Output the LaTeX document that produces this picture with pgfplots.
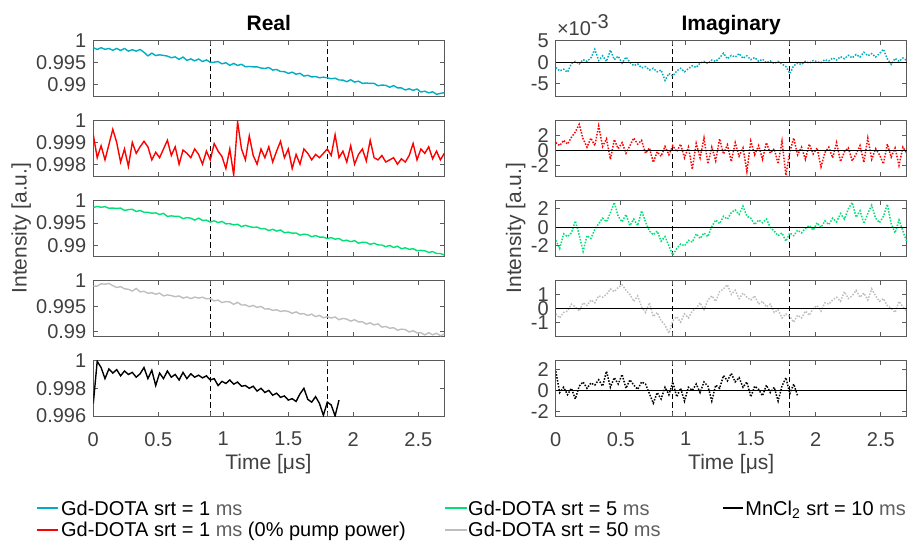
\documentclass[border=0pt]{standalone}
\usepackage{fontspec}
\setmainfont{Liberation Sans}
\usepackage{pgfplots}
\usepackage{pgfplotstable}
\pgfplotsset{compat=1.18}
\definecolor{cyanc}{RGB}{0,174,194}
\definecolor{redc}{RGB}{255,0,0}
\definecolor{greenc}{RGB}{0,224,118}
\definecolor{grayc}{RGB}{190,190,190}
\definecolor{axgray}{RGB}{90,90,90}
\definecolor{labgray}{RGB}{64,64,64}
\definecolor{msgray}{RGB}{95,95,95}

\pgfplotstableread{
x a b c d e
0.00 0.99838 0.99935 0.99846 0.99891 0.99691
0.03 0.99797 0.99830 0.99870 0.99893 0.99995
0.06 0.99838 0.99885 0.99852 0.99938 0.99950
0.09 0.99800 0.99820 0.99865 0.99930 0.99870
0.12 0.99820 0.99890 0.99830 0.99945 0.99940
0.15 0.99778 0.99960 0.99833 0.99902 0.99910
0.18 0.99821 0.99900 0.99826 0.99865 0.99935
0.21 0.99775 0.99810 0.99833 0.99882 0.99890
0.24 0.99820 0.99870 0.99780 0.99840 0.99925
0.27 0.99758 0.99790 0.99800 0.99830 0.99900
0.30 0.99792 0.99900 0.99807 0.99796 0.99915
0.33 0.99758 0.99850 0.99757 0.99847 0.99880
0.36 0.99796 0.99880 0.99780 0.99780 0.99905
0.39 0.99732 0.99905 0.99740 0.99790 0.99950
0.42 0.99650 0.99880 0.99740 0.99752 0.99870
0.45 0.99712 0.99820 0.99718 0.99763 0.99930
0.48 0.99657 0.99855 0.99727 0.99733 0.99820
0.51 0.99675 0.99830 0.99690 0.99756 0.99910
0.54 0.99660 0.99870 0.99715 0.99700 0.99870
0.57 0.99645 0.99910 0.99647 0.99720 0.99925
0.60 0.99608 0.99840 0.99660 0.99707 0.99880
0.63 0.99627 0.99880 0.99648 0.99685 0.99900
0.66 0.99570 0.99800 0.99648 0.99700 0.99860
0.69 0.99623 0.99865 0.99598 0.99657 0.99915
0.72 0.99547 0.99850 0.99620 0.99680 0.99870
0.75 0.99580 0.99830 0.99610 0.99648 0.99905
0.78 0.99536 0.99870 0.99565 0.99677 0.99880
0.81 0.99578 0.99845 0.99610 0.99658 0.99895
0.84 0.99520 0.99800 0.99557 0.99675 0.99875
0.87 0.99558 0.99860 0.99565 0.99644 0.99890
0.90 0.99502 0.99820 0.99523 0.99648 0.99860
0.93 0.99505 0.99895 0.99550 0.99603 0.99870
0.96 0.99520 0.99860 0.99510 0.99618 0.99820
0.99 0.99468 0.99835 0.99535 0.99570 0.99850
1.02 0.99493 0.99780 0.99482 0.99590 0.99835
1.05 0.99433 0.99870 0.99486 0.99582 0.99860
1.08 0.99477 0.99750 0.99458 0.99535 0.99830
1.11 0.99430 0.99995 0.99473 0.99575 0.99845
1.14 0.99457 0.99870 0.99420 0.99522 0.99815
1.17 0.99400 0.99820 0.99448 0.99525 0.99820
1.20 0.99408 0.99930 0.99422 0.99491 0.99800
1.23 0.99398 0.99840 0.99403 0.99515 0.99815
1.26 0.99398 0.99800 0.99410 0.99475 0.99780
1.29 0.99372 0.99870 0.99372 0.99495 0.99800
1.32 0.99360 0.99830 0.99375 0.99444 0.99770
1.35 0.99384 0.99880 0.99333 0.99448 0.99785
1.38 0.99325 0.99810 0.99360 0.99418 0.99750
1.41 0.99338 0.99860 0.99320 0.99430 0.99765
1.44 0.99292 0.99905 0.99345 0.99398 0.99735
1.47 0.99290 0.99830 0.99284 0.99410 0.99745
1.50 0.99248 0.99870 0.99298 0.99397 0.99715
1.53 0.99277 0.99780 0.99273 0.99360 0.99725
1.56 0.99230 0.99845 0.99278 0.99388 0.99705
1.59 0.99250 0.99800 0.99230 0.99347 0.99760
1.62 0.99187 0.99870 0.99252 0.99353 0.99800
1.65 0.99206 0.99850 0.99240 0.99318 0.99720
1.68 0.99166 0.99820 0.99195 0.99345 0.99700
1.71 0.99178 0.99845 0.99220 0.99295 0.99740
1.74 0.99148 0.99830 0.99187 0.99320 0.99690
1.77 0.99162 0.99850 0.99185 0.99272 0.99605
1.80 0.99147 0.99870 0.99154 0.99294 0.99700
1.83 0.99127 0.99840 0.99175 0.99268 0.99680
1.86 0.99138 0.99935 0.99140 0.99288 0.99600
1.89 0.99097 0.99830 0.99155 0.99235 0.99715
1.92 0.99095 0.99860 0.99102 0.99260 nan
1.95 0.99058 0.99810 0.99118 0.99247 nan
1.98 0.99103 0.99885 0.99085 0.99207 nan
2.01 0.99050 0.99800 0.99108 0.99235 nan
2.04 0.99070 0.99845 0.99050 0.99192 nan
2.07 0.99020 0.99870 0.99072 0.99195 nan
2.10 0.99028 0.99815 0.99067 0.99148 nan
2.13 0.99018 0.99910 0.99025 0.99175 nan
2.16 0.99020 0.99830 0.99050 0.99133 nan
2.19 0.98965 0.99820 0.99012 0.99155 nan
2.22 0.98982 0.99840 0.99010 0.99090 nan
2.25 0.98974 0.99810 0.98973 0.99103 nan
2.28 0.98930 0.99820 0.99000 0.99068 nan
2.31 0.98970 0.99830 0.98955 0.99078 nan
2.34 0.98917 0.99800 0.98983 0.99030 nan
2.37 0.98915 0.99825 0.98927 0.99050 nan
2.40 0.98868 0.99810 0.98948 0.99042 nan
2.43 0.98897 0.99840 0.98913 0.98995 nan
2.46 0.98860 0.99895 0.98928 0.99020 nan
2.49 0.98890 0.99820 0.98885 0.98977 nan
2.52 0.98822 0.99870 0.98890 0.98980 nan
2.55 0.98840 0.99850 0.98882 0.98938 nan
2.58 0.98803 0.99880 0.98845 0.98980 nan
2.61 0.98826 0.99825 0.98862 0.98940 nan
2.64 0.98770 0.99860 0.98822 0.98970 nan
2.67 0.98790 0.99820 0.98820 0.98922 nan
2.70 0.98807 0.99850 0.98790 0.98953 nan
}\realtab

\pgfplotstableread{
x a b c d e
0.00 -1.2 1.0 -1.4 -0.4 1.8
0.03 -2.0 0.6 -2.3 -0.7 -0.2
0.06 -1.6 1.3 -0.7 -0.3 0.3
0.09 -2.3 0.8 -1.0 -0.2 -0.4
0.12 -0.3 1.7 -0.6 0.3 0.2
0.15 0.2 2.4 0.7 0.1 -0.8
0.18 -0.4 3.4 -0.8 -0.2 0.4
0.21 0.6 1.5 -2.6 0.4 0.8
0.24 0.2 0.4 -0.9 0.2 0.2
0.27 1.0 1.6 -1.2 0.6 0.7
0.30 3.0 0.6 -0.2 0.4 0.5
0.33 0.4 3.2 0.4 0.9 1.0
0.36 1.5 0.5 1.0 0.8 0.4
0.39 0.2 1.5 0.6 1.0 1.8
0.42 2.8 -1.2 1.6 1.4 0.3
0.45 0.6 1.4 2.7 1.2 1.2
0.48 1.4 0.2 1.2 1.5 0.6
0.51 -0.2 1.0 0.6 1.7 1.5
0.54 1.2 -0.4 1.4 1.3 0.2
0.57 0.0 0.6 0.2 1.0 1.0
0.60 -0.8 1.6 0.9 0.5 0.5
0.63 -0.4 0.8 0.2 0.9 0.1
0.66 -1.3 1.3 1.8 0.1 0.8
0.69 -1.0 -0.4 0.6 -0.3 0.6
0.72 -1.8 0.3 -0.4 0.4 -0.3
0.75 -1.4 -1.6 -0.8 -0.6 -1.2
0.78 -2.2 -0.2 -0.4 -0.3 -0.2
0.81 -1.8 -0.8 -1.5 -0.9 -0.8
0.84 -4.2 0.5 -1.0 -1.2 0.3
0.87 -2.6 -0.6 -2.0 -1.8 -0.4
0.90 -3.2 0.6 -3.0 -0.9 0.8
0.93 -2.0 -0.2 -2.3 -0.6 -0.6
0.96 -1.4 0.8 -1.8 -1.0 0.2
0.99 -2.2 -1.0 -2.0 -0.4 -1.0
1.02 -1.5 0.4 -1.4 -0.7 0.3
1.05 -0.8 -2.5 -1.6 -0.2 0.0
1.08 -1.2 0.9 -0.7 0.0 0.6
1.11 -0.2 -1.0 -1.2 0.4 -0.2
1.14 0.2 1.6 -0.6 -0.1 0.8
1.17 -0.3 -1.8 -1.0 0.6 0.4
1.20 0.5 0.4 0.1 0.9 -1.0
1.23 0.2 -1.4 0.8 0.5 0.5
1.26 1.0 1.5 0.4 1.2 0.2
1.29 2.1 -0.5 1.2 1.4 1.4
1.32 0.8 0.7 0.9 1.7 0.9
1.35 1.6 -1.5 1.6 1.0 1.6
1.38 1.2 1.0 1.9 1.3 0.8
1.41 2.0 -0.8 1.4 0.7 1.2
1.44 0.9 0.3 2.3 1.1 0.3
1.47 1.5 -2.8 1.2 0.8 0.8
1.50 0.6 1.2 1.0 0.6 -0.6
1.53 1.1 -0.6 0.3 0.9 0.4
1.56 0.2 0.6 0.8 0.3 0.1
1.59 0.7 -1.2 0.5 0.5 -0.5
1.62 -0.1 1.0 0.9 0.1 0.5
1.65 0.3 -0.4 0.0 0.3 -0.2
1.68 -0.3 0.2 -0.4 -0.3 0.3
1.71 0.2 -1.8 -0.9 -0.1 -1.0
1.74 -0.4 1.2 -0.6 -0.7 0.4
1.77 -1.0 -3.3 -1.5 -0.4 1.2
1.80 -2.6 -0.2 -0.6 -0.6 -0.3
1.83 -0.8 1.6 -0.9 -1.0 0.6
1.86 -0.2 -0.6 -0.3 -0.5 -0.5
1.89 -0.5 0.4 -0.6 -0.7 nan
1.92 0.2 -1.2 -0.1 -0.2 nan
1.95 -0.2 0.8 0.2 -0.5 nan
1.98 0.4 -0.5 -0.3 0.0 nan
2.01 0.1 0.3 0.5 0.2 nan
2.04 -0.1 -2.2 0.0 -0.2 nan
2.07 0.6 -0.3 0.7 0.4 nan
2.10 0.3 0.4 0.3 0.3 nan
2.13 1.0 -1.0 1.0 0.6 nan
2.16 0.5 1.0 0.6 0.8 nan
2.19 1.3 -1.5 1.5 0.5 nan
2.22 0.8 -0.2 0.9 1.2 nan
2.25 1.6 0.3 2.0 0.7 nan
2.28 1.0 -1.4 2.7 0.9 nan
2.31 1.8 -0.5 1.1 1.3 nan
2.34 1.2 0.6 1.8 0.8 nan
2.37 2.3 -1.6 0.4 1.1 nan
2.40 1.5 1.6 1.5 0.6 nan
2.43 2.0 -1.2 2.4 1.4 nan
2.46 1.2 0.2 1.0 0.9 nan
2.49 2.0 -0.6 0.5 0.5 nan
2.52 3.0 -1.8 1.2 0.7 nan
2.55 0.8 0.8 2.5 0.2 nan
2.58 -0.5 -0.9 0.4 0.0 nan
2.61 0.9 0.3 -0.6 -0.3 nan
2.64 0.2 -2.0 0.8 0.5 nan
2.67 1.0 0.4 -0.4 0.1 nan
2.70 0.4 -0.4 -1.6 -0.2 nan
}\imagtab

\pgfplotsset{
  panel/.style={
    scale only axis, width=175.5pt, height=27.7pt,
    anchor=north west,
    xmin=0, xmax=2.7,
    xtick={0,0.5,1,1.5,2,2.5}, xticklabels={},
    tick align=inside, major tick length=2.2pt,
    axis line style={draw=axgray, line width=0.45pt},
    every tick/.style={draw=axgray, line width=0.45pt},
    ticklabel style={font=\fontsize{10}{12}\selectfont, text=labgray},
    scaled y ticks=false, scaled x ticks=false,
    extra x ticks={0.9,1.8}, extra x tick labels={},
    extra x tick style={grid=major},
    major grid style={black, line width=0.45pt, dash pattern=on 2.6pt off 1.6pt},
    clip=true,
  },
  bottomrow/.style={xticklabels={0,0.5,1,1.5,2,2.5}, xticklabel shift=4.5pt},
  lft/.style={panel, at={(46.65pt,#1)}},
  rgt/.style={panel, at={(277.9pt,#1)}},
  realline/.style={line width=0.7pt, mark=none},
  imagline/.style={line width=0.75pt, mark=none, dash pattern=on 0.75pt off 0.75pt},
  zeroline/.style={black, line width=0.5pt, mark=none, forget plot},
}

\begin{document}
\begin{tikzpicture}
\useasboundingbox (0,0) rectangle (455.5pt,-271.5pt);

% ---------------- Real column ----------------
\begin{axis}[lft=-20.3pt, ymin=0.9873, ymax=1, ytick={0.99,0.995,1}, yticklabels={0.99,0.995,1}]
\addplot[realline, cyanc] table[x=x, y=a] {\realtab};
\end{axis}
\begin{axis}[lft=-60.3pt, ymin=0.99746, ymax=1, ytick={0.998,0.999,1}, yticklabels={0.998,0.999,1}]
\addplot[realline, redc] table[x=x, y=b] {\realtab};
\end{axis}
\begin{axis}[lft=-100.3pt, ymin=0.98765, ymax=1, ytick={0.99,0.995,1}, yticklabels={0.99,0.995,1}]
\addplot[realline, greenc] table[x=x, y=c] {\realtab};
\end{axis}
\begin{axis}[lft=-140.3pt, ymin=0.98916, ymax=1, ytick={0.99,0.995,1}, yticklabels={0.99,0.995,1}]
\addplot[realline, grayc] table[x=x, y=d] {\realtab};
\end{axis}
\begin{axis}[lft=-180.3pt, bottomrow, ymin=0.996, ymax=1, ytick={0.996,0.998,1}, yticklabels={0.996,0.998,1}]
\addplot[realline, black] table[x=x, y=e] {\realtab};
\end{axis}

% ---------------- Imaginary column ----------------
\begin{axis}[rgt=-20.3pt, ymin=-7.8, ymax=5, ytick={-5,0,5}, yticklabels={-5,0,5}]
\addplot[imagline, cyanc] table[x=x, y=a] {\imagtab};
\addplot[zeroline] coordinates {(0,0) (2.7,0)};
\end{axis}
\begin{axis}[rgt=-60.3pt, ymin=-3.4, ymax=3.9, ytick={-2,0,2}, yticklabels={-2,0,2}]
\addplot[imagline, redc] table[x=x, y=b] {\imagtab};
\addplot[zeroline] coordinates {(0,0) (2.7,0)};
\end{axis}
\begin{axis}[rgt=-100.3pt, ymin=-3.1, ymax=2.9, ytick={-2,0,2}, yticklabels={-2,0,2}]
\addplot[imagline, greenc] table[x=x, y=c] {\imagtab};
\addplot[zeroline] coordinates {(0,0) (2.7,0)};
\end{axis}
\begin{axis}[rgt=-140.3pt, ymin=-2, ymax=2, ytick={-1,0,1}, yticklabels={-1,0,1}]
\addplot[imagline, grayc] table[x=x, y=d] {\imagtab};
\addplot[zeroline] coordinates {(0,0) (2.7,0)};
\end{axis}
\begin{axis}[rgt=-180.3pt, bottomrow, ymin=-2.4, ymax=2.8, ytick={-2,0,2}, yticklabels={-2,0,2}]
\addplot[imagline, black] table[x=x, y=e] {\imagtab};
\addplot[zeroline] coordinates {(0,0) (2.7,0)};
\end{axis}

% ---------------- titles and labels ----------------
\node[anchor=base, font=\bfseries\fontsize{10.5}{12}\selectfont] at (134.4pt,-15.35pt) {Real};
\node[anchor=base, font=\bfseries\fontsize{10.5}{12}\selectfont] at (365.6pt,-15.35pt) {Imaginary};
\node[anchor=base west, inner sep=0pt, text=labgray, font=\fontsize{10}{12}\selectfont] at (278.3pt,-17.5pt) {×10\raisebox{3.3pt}{-3}};
\node[rotate=90, inner sep=0pt, text=labgray, font=\fontsize{10.5}{12}\selectfont] at (10.6pt,-114pt) {Intensity [a.u.]};
\node[rotate=90, inner sep=0pt, text=labgray, font=\fontsize{10.5}{12}\selectfont] at (257.8pt,-114pt) {Intensity [a.u.]};
\node[anchor=base, text=labgray, font=\fontsize{10.5}{12}\selectfont] at (134.2pt,-234.7pt) {Time [μs]};
\node[anchor=base, text=labgray, font=\fontsize{10.5}{12}\selectfont] at (365.6pt,-234.7pt) {Time [μs]};

% ---------------- legend ----------------
\begin{scope}[every node/.style={anchor=base west, inner sep=0pt, font=\fontsize{10}{12}\selectfont, text=black}]
\draw[draw=cyanc, line width=0.8pt] (18.35pt,-254pt) -- (29.15pt,-254pt);
\node at (30.35pt,-257.6pt) {Gd-DOTA srt = 1 \textcolor{msgray}{ms}};
\draw[draw=redc, line width=0.8pt] (18.35pt,-265pt) -- (29.15pt,-265pt);
\node at (30.35pt,-268.35pt) {Gd-DOTA srt = 1 \textcolor{msgray}{ms} (0\% pump power)};
\draw[draw=greenc, line width=0.8pt] (222.5pt,-254pt) -- (233.3pt,-254pt);
\node at (233.9pt,-257.6pt) {Gd-DOTA srt = 5 \textcolor{msgray}{ms}};
\draw[draw=grayc, line width=0.8pt] (222.5pt,-265pt) -- (233.3pt,-265pt);
\node at (233.9pt,-268.35pt) {Gd-DOTA srt = 50 \textcolor{msgray}{ms}};
\draw[draw=black, line width=0.8pt] (361.7pt,-254pt) -- (371.4pt,-254pt);
\node at (372.5pt,-257.6pt) {MnCl\textsubscript{2} srt = 10 \textcolor{msgray}{ms}};
\end{scope}
\end{tikzpicture}
\end{document}
